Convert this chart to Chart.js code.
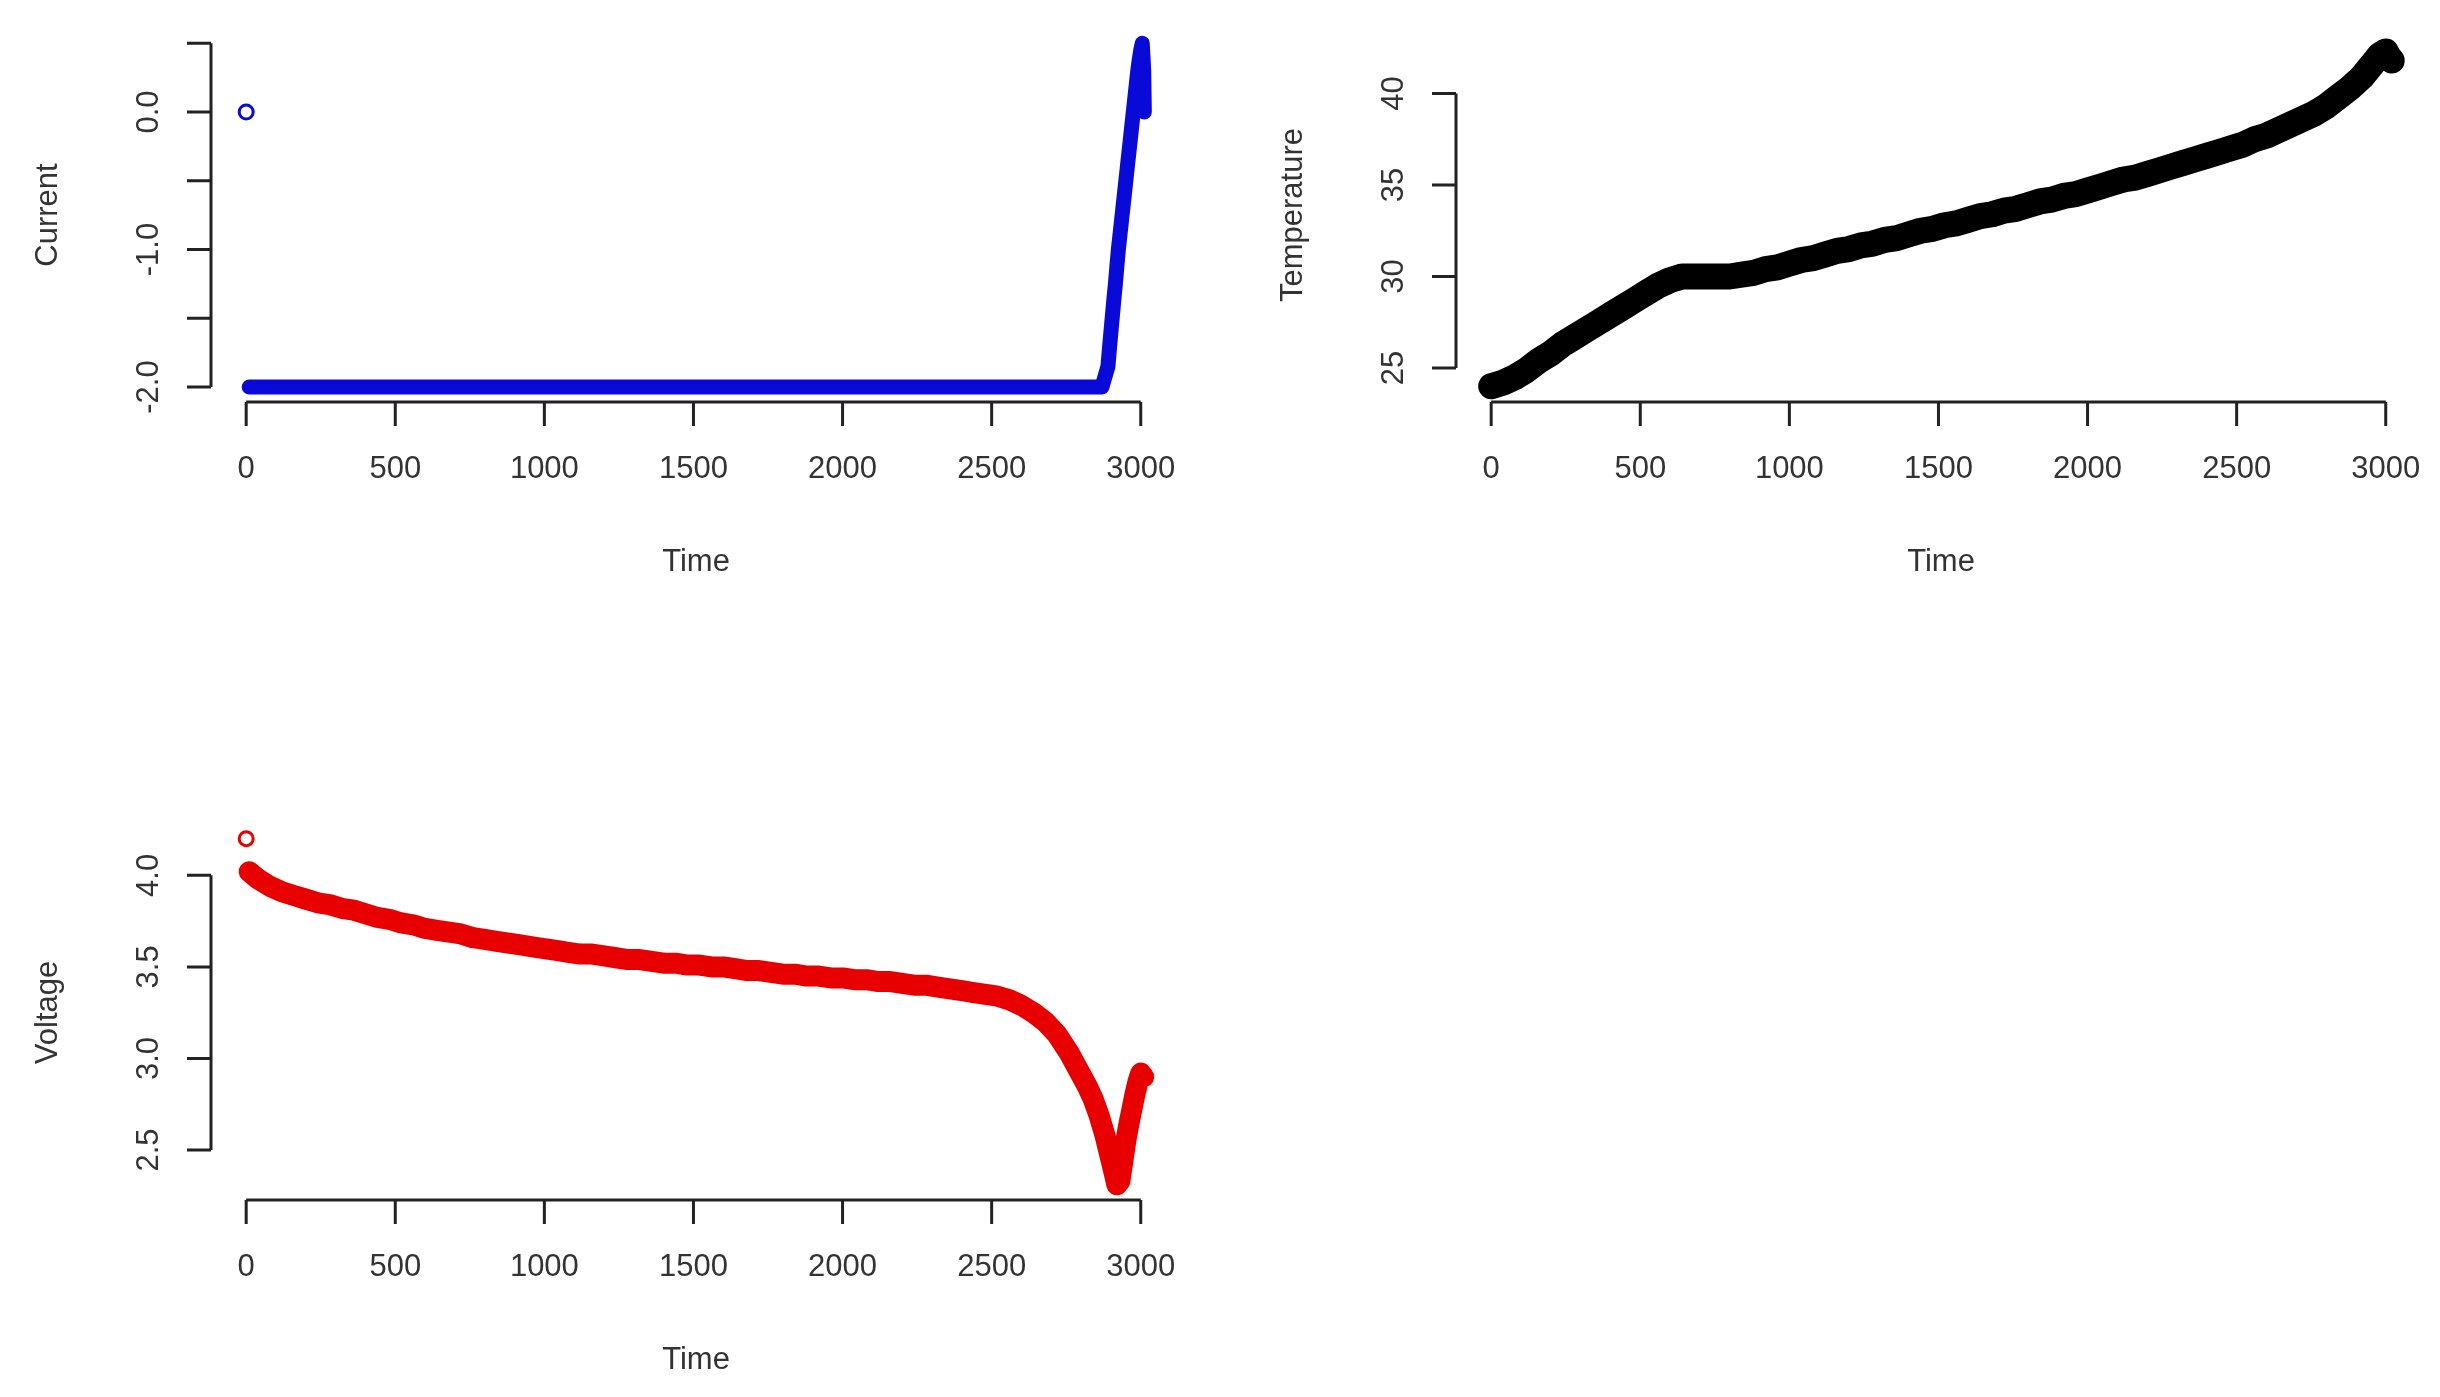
<!DOCTYPE html>
<html>
<head>
<meta charset="utf-8">
<script src="https://cdn.jsdelivr.net/npm/chart.js@4.4.1/dist/chart.umd.min.js"></script>
<style>
  body { margin: 0; background: #fff; width: 2440px; height: 1397px; overflow: hidden; }
  .panel { position: absolute; width: 1220px; }
</style>
</head>
<body>
<div class="panel" style="left:0;top:0;height:700px"><canvas id="CurrentChart"></canvas></div>
<div class="panel" style="left:1220px;top:0;height:700px"><canvas id="TempChart"></canvas></div>
<div class="panel" style="left:0;top:700px;height:697px"><canvas id="VoltageChart"></canvas></div>
<script>
// tick labels
const timeTicks = [0, 500, 1000, 1500, 2000, 2500, 3000];
const currentTicks = [-2.0, -1.5, -1.0, -0.5, 0.0, 0.5];
const currentTickLabels = ["-2.0", "", "-1.0", "", "0.0", ""];
const tempTicks = [25, 30, 35, 40];
const voltageTicks = [2.5, 3.0, 3.5, 4.0];

// current (first sample is the lone reading at 0.0)
const currentTime = [0, 10, 40, 80, 120, 160, 200, 240, 280, 320, 360, 400, 440, 480, 520, 560, 600, 640, 680, 720, 760, 800,
  840, 880, 920, 960, 1000, 1040, 1080, 1120, 1160, 1200, 1240, 1280, 1320, 1360, 1400, 1440, 1480, 1520, 1560, 1600,
  1640, 1680, 1720, 1760, 1800, 1840, 1880, 1920, 1960, 2000, 2040, 2080, 2120, 2160, 2200, 2240, 2280, 2320, 2360, 2400,
  2440, 2480, 2520, 2560, 2600, 2640, 2680, 2720, 2760, 2800, 2840, 2870,
  2890, 2895, 2900, 2905, 2910, 2915, 2920, 2925, 2930, 2935, 2940, 2945, 2950, 2955, 2960, 2965, 2970, 2975, 2980, 2985,
  2990, 2995, 3000, 3005, 3010, 3012];
const currentValues = [0.0, -2.0, -2.0, -2.0, -2.0, -2.0, -2.0, -2.0, -2.0, -2.0, -2.0, -2.0, -2.0, -2.0, -2.0, -2.0, -2.0, -2.0, -2.0, -2.0, -2.0, -2.0,
  -2.0, -2.0, -2.0, -2.0, -2.0, -2.0, -2.0, -2.0, -2.0, -2.0, -2.0, -2.0, -2.0, -2.0, -2.0, -2.0, -2.0, -2.0, -2.0, -2.0,
  -2.0, -2.0, -2.0, -2.0, -2.0, -2.0, -2.0, -2.0, -2.0, -2.0, -2.0, -2.0, -2.0, -2.0, -2.0, -2.0, -2.0, -2.0, -2.0, -2.0,
  -2.0, -2.0, -2.0, -2.0, -2.0, -2.0, -2.0, -2.0, -2.0, -2.0, -2.0, -2.0,
  -1.85, -1.72, -1.6, -1.48, -1.36, -1.25, -1.12, -1.0, -0.9, -0.8, -0.7, -0.6, -0.5, -0.4, -0.3, -0.2, -0.1, 0.0, 0.1, 0.2,
  0.3, 0.38, 0.45, 0.5, 0.3, 0.0];

// temperature
const tempTime = [0, 40, 80, 120, 160, 200, 240, 280, 320, 360, 400, 440, 480, 520, 560, 600, 640, 680, 720, 760, 800,
  840, 880, 920, 960, 1000, 1040, 1080, 1120, 1160, 1200, 1240, 1280, 1320, 1360, 1400, 1440, 1480, 1520, 1560, 1600,
  1640, 1680, 1720, 1760, 1800, 1840, 1880, 1920, 1960, 2000, 2040, 2080, 2120, 2160, 2200, 2240, 2280, 2320, 2360, 2400,
  2440, 2480, 2520, 2560, 2600, 2640, 2680, 2720, 2760, 2800, 2840, 2880, 2920, 2940, 2960, 2980, 3000, 3010, 3020];
const tempValues = [24.0, 24.2, 24.5, 24.9, 25.4, 25.8, 26.3, 26.7, 27.1, 27.5, 27.9, 28.3, 28.7, 29.1, 29.5, 29.8, 30.0, 30.0, 30.0, 30.0, 30.0,
  30.1, 30.2, 30.4, 30.5, 30.7, 30.9, 31.0, 31.2, 31.4, 31.5, 31.7, 31.8, 32.0, 32.1, 32.3, 32.5, 32.6, 32.8, 32.9, 33.1,
  33.3, 33.4, 33.6, 33.7, 33.9, 34.1, 34.2, 34.4, 34.5, 34.7, 34.9, 35.1, 35.3, 35.4, 35.6, 35.8, 36.0, 36.2, 36.4, 36.6,
  36.8, 37.0, 37.2, 37.5, 37.7, 38.0, 38.3, 38.6, 38.9, 39.3, 39.8, 40.3, 40.9, 41.3, 41.7, 42.1, 42.3, 42.0, 41.8];

// voltage (first sample is the lone reading at 4.2)
const voltageTime = [0, 10, 40, 80, 120, 160, 200, 240, 280, 320, 360, 400, 440, 480, 520, 560, 600, 640, 680, 720, 760, 800,
  840, 880, 920, 960, 1000, 1040, 1080, 1120, 1160, 1200, 1240, 1280, 1320, 1360, 1400, 1440, 1480, 1520, 1560, 1600,
  1640, 1680, 1720, 1760, 1800, 1840, 1880, 1920, 1960, 2000, 2040, 2080, 2120, 2160, 2200, 2240, 2280, 2320, 2360, 2400,
  2440, 2480, 2520, 2560, 2600, 2640, 2680, 2720, 2760, 2790, 2820, 2840, 2860, 2880, 2895, 2910, 2920, 2930,
  2940, 2950, 2960, 2970, 2980, 2990, 3000, 3010];
const voltageValues = [4.2, 4.02, 3.98, 3.94, 3.91, 3.89, 3.87, 3.85, 3.84, 3.82, 3.81, 3.79, 3.77, 3.76, 3.74, 3.73, 3.71, 3.70, 3.69, 3.68, 3.66, 3.65,
  3.64, 3.63, 3.62, 3.61, 3.60, 3.59, 3.58, 3.57, 3.57, 3.56, 3.55, 3.54, 3.54, 3.53, 3.52, 3.52, 3.51, 3.51, 3.50, 3.50,
  3.49, 3.48, 3.48, 3.47, 3.46, 3.46, 3.45, 3.45, 3.44, 3.44, 3.43, 3.43, 3.42, 3.42, 3.41, 3.40, 3.40, 3.39, 3.38, 3.37,
  3.36, 3.35, 3.34, 3.32, 3.29, 3.25, 3.20, 3.13, 3.03, 2.94, 2.85, 2.78, 2.69, 2.58, 2.48, 2.38, 2.31, 2.33,
  2.44, 2.55, 2.64, 2.72, 2.80, 2.87, 2.92, 2.90];

const FONT = "'Liberation Sans', Arial, sans-serif";

function toPoints(xs, ys) {
  return xs.map((x, i) => ({ x: x, y: ys[i] }));
}

// R-style axes, drawn by hand so the lines stop at the outer ticks
const rAxes = {
  id: "rAxes",
  afterDraw(chart, args, opts) {
    const ctx = chart.ctx;
    const area = chart.chartArea;
    const xs = chart.scales.x;
    const ys = chart.scales.y;
    ctx.save();
    ctx.strokeStyle = "#222";
    ctx.fillStyle = "#333";
    ctx.lineWidth = 3;

    // x axis
    const x0 = xs.getPixelForValue(opts.xTicks[0]);
    const x1 = xs.getPixelForValue(opts.xTicks[opts.xTicks.length - 1]);
    const by = area.bottom;
    ctx.beginPath();
    ctx.moveTo(x0, by);
    ctx.lineTo(x1, by);
    opts.xTicks.forEach(v => {
      const px = xs.getPixelForValue(v);
      ctx.moveTo(px, by);
      ctx.lineTo(px, by + 24);
    });
    ctx.stroke();
    ctx.font = "31px " + FONT;
    ctx.textAlign = "center";
    ctx.textBaseline = "middle";
    opts.xTicks.forEach(v => ctx.fillText(String(v), xs.getPixelForValue(v), by + 67));
    ctx.fillText(opts.xTitle, (area.left + area.right) / 2, by + 160);

    // y axis
    const lx = area.left;
    const y0 = ys.getPixelForValue(opts.yTicks[0]);
    const y1 = ys.getPixelForValue(opts.yTicks[opts.yTicks.length - 1]);
    ctx.beginPath();
    ctx.moveTo(lx, y0);
    ctx.lineTo(lx, y1);
    opts.yTicks.forEach(v => {
      const py = ys.getPixelForValue(v);
      ctx.moveTo(lx, py);
      ctx.lineTo(lx - 24, py);
    });
    ctx.stroke();
    opts.yTicks.forEach((v, i) => {
      const label = opts.yLabels[i];
      if (!label) return;
      ctx.save();
      ctx.translate(lx - 62, ys.getPixelForValue(v));
      ctx.rotate(-Math.PI / 2);
      ctx.fillText(label, 0, 0);
      ctx.restore();
    });
    ctx.save();
    ctx.translate(lx - 163, (area.top + area.bottom) / 2);
    ctx.rotate(-Math.PI / 2);
    ctx.fillText(opts.yTitle, 0, 0);
    ctx.restore();
    ctx.restore();
  }
};

// lone points are drawn as open circles, the dense run as a thick band
function makePanel(id, lone, band, color, bandWidth, yMin, yMax, padding, axes) {
  const canvas = document.getElementById(id);
  if (!canvas) {
    console.error(id + " canvas not found");
    return null;
  }
  const ctx = canvas.getContext("2d");
  return new Chart(ctx, {
    type: "scatter",
    data: {
      datasets: [
        {
          data: lone,
          borderColor: color,
          backgroundColor: "rgba(0,0,0,0)",
          borderWidth: 3,
          pointRadius: 7,
          clip: false
        },
        {
          data: band,
          showLine: true,
          borderColor: color,
          borderWidth: bandWidth,
          borderCapStyle: "round",
          borderJoinStyle: "round",
          pointRadius: 0,
          clip: false
        }
      ]
    },
    options: {
      responsive: true,
      maintainAspectRatio: false,
      animation: false,
      layout: { padding: padding },
      plugins: {
        legend: { display: false },
        tooltip: { enabled: false },
        rAxes: axes
      },
      scales: {
        x: { type: "linear", min: -118, max: 3135, display: false },
        y: { type: "linear", min: yMin, max: yMax, display: false }
      }
    },
    plugins: [rAxes]
  });
}

const currentPts = toPoints(currentTime, currentValues);
makePanel("CurrentChart", currentPts.slice(0, 1), currentPts.slice(1), "#0a0ad8", 15, -2.109, 0.611,
  { left: 211, top: 28, right: 39, bottom: 298 },
  { xTicks: timeTicks, xTitle: "Time", yTicks: currentTicks, yLabels: currentTickLabels, yTitle: "Current" });

makePanel("TempChart", [], toPoints(tempTime, tempValues), "#000000", 26, 23.14, 43.58,
  { left: 236, top: 28, right: 14, bottom: 298 },
  { xTicks: timeTicks, xTitle: "Time", yTicks: tempTicks, yLabels: tempTicks.map(String), yTitle: "Temperature" });

const voltagePts = toPoints(voltageTime, voltageValues);
makePanel("VoltageChart", voltagePts.slice(0, 1), voltagePts.slice(1), "#e80000", 21, 2.227, 4.275,
  { left: 211, top: 125, right: 39, bottom: 197 },
  { xTicks: timeTicks, xTitle: "Time", yTicks: voltageTicks, yLabels: voltageTicks.map(v => v.toFixed(1)), yTitle: "Voltage" });
</script>
</body>
</html>
